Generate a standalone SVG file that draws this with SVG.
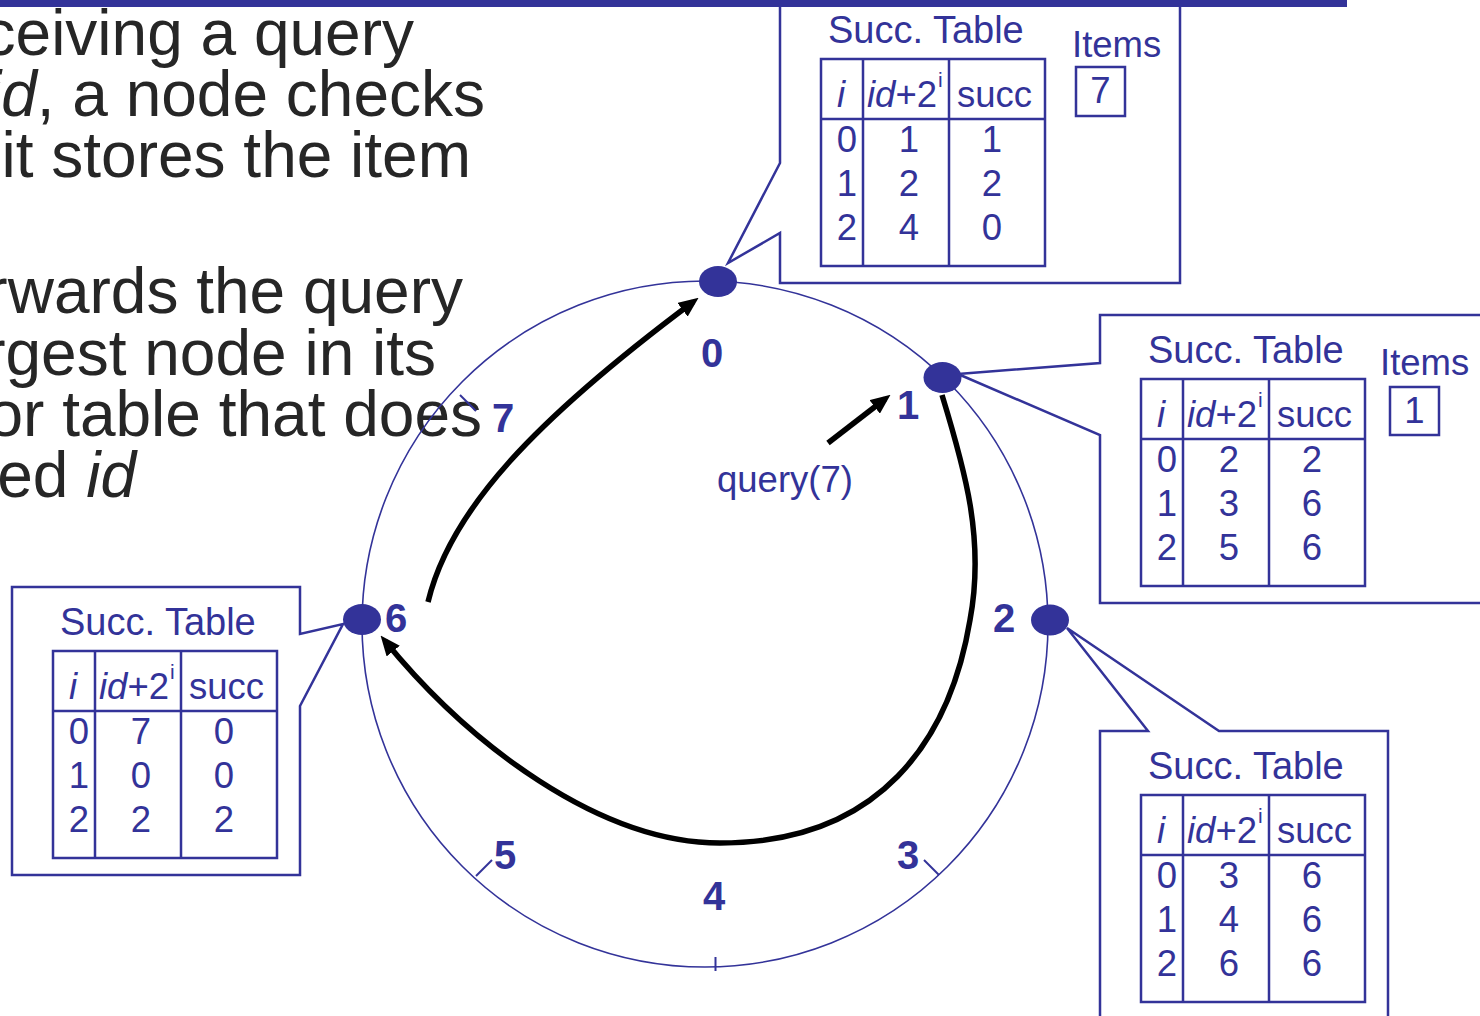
<svg xmlns="http://www.w3.org/2000/svg" width="1480" height="1016" viewBox="0 0 1480 1016">
  <defs>
    <marker id="arrowhead" markerUnits="userSpaceOnUse" markerWidth="20" markerHeight="17" viewBox="0 0 20 17" refX="13" refY="8.5" orient="auto">
      <path d="M0,0 L20,8.5 L0,17 Z" fill="#000"/>
    </marker>
  </defs>
  <style>
    .body{font-family:"Liberation Sans",Arial,sans-serif;font-size:64px;fill:#262626}
    .lbl{font-family:"Liberation Sans",Arial,sans-serif;font-size:40px;font-weight:bold;fill:#333399;text-anchor:middle}
    .t{font-family:"Liberation Sans",Arial,sans-serif;font-size:36.5px;fill:#333399}
    .ttl{font-size:38px}
    .c{text-anchor:middle}
    .it{font-style:italic}
    .sup{font-size:21px}
    .frame{fill:none;stroke:#333399;stroke-width:2.5}
    .ring{fill:none;stroke:#333399;stroke-width:1.6}
    .tick{stroke:#333399;stroke-width:2}
    .dot{fill:#333399}
    .hop{fill:none;stroke:#000;stroke-width:5.5;marker-end:url(#arrowhead)}
  </style>

  <rect width="1480" height="1016" fill="#fff"/>

  <!-- bullet text, running off the left edge -->
  <g id="bullets">
    <text class="body" text-anchor="end" x="414" y="55">ceiving a query</text>
    <text class="body" text-anchor="end" x="485" y="116"><tspan class="it">id</tspan>, a node checks</text>
    <text class="body" text-anchor="end" x="471" y="177">it stores the item</text>
    <text class="body" text-anchor="end" x="463" y="313">rwards the query</text>
    <text class="body" text-anchor="end" x="436" y="375">rgest node in its</text>
    <text class="body" text-anchor="end" x="482" y="436">or table that does</text>
    <text class="body" text-anchor="end" x="136" y="497">ed <tspan class="it">id</tspan></text>
  </g>

  <!-- identifier ring with empty positions 3, 4, 5, 7 -->
  <g id="ring">
    <circle class="ring" cx="705" cy="624" r="343"/>
    <line class="tick" x1="460" y1="395" x2="476" y2="411"/>
    <line class="tick" x1="476" y1="876" x2="492" y2="860"/>
    <line class="tick" x1="924" y1="860" x2="939" y2="875"/>
    <line class="tick" x1="715.5" y1="957" x2="715.5" y2="971"/>
    <text class="lbl" x="503" y="432">7</text>
    <text class="lbl" x="505" y="869">5</text>
    <text class="lbl" x="908" y="869">3</text>
    <text class="lbl" x="714" y="910">4</text>
  </g>

  <!-- node 0 -->
  <g id="node-0">
    <path class="frame" d="M780,-5 L780,163 L728,263 L780,233 L780,283 L1180,283 L1180,-5 Z"/>
    <g transform="translate(821,59)">
      <text class="t ttl" x="7" y="-16">Succ. Table</text>
      <rect class="frame" x="0" y="0" width="224" height="207"/>
      <path class="frame" d="M42,0 V207 M128,0 V207 M0,60 H224"/>
      <text class="t it" x="16" y="48">i</text>
      <text class="t" x="46" y="48"><tspan class="it">id</tspan>+2</text>
      <text class="t sup" x="117" y="28">i</text>
      <text class="t" x="136" y="48">succ</text>
      <text class="t c" x="26" y="93">0</text><text class="t c" x="88" y="93">1</text><text class="t c" x="171" y="93">1</text>
      <text class="t c" x="26" y="137">1</text><text class="t c" x="88" y="137">2</text><text class="t c" x="171" y="137">2</text>
      <text class="t c" x="26" y="181">2</text><text class="t c" x="88" y="181">4</text><text class="t c" x="171" y="181">0</text>
    </g>
    <text class="t" x="1072" y="57">Items</text>
    <rect class="frame" x="1076" y="67" width="49" height="49"/>
    <text class="t c" x="1100.5" y="103">7</text>
    <ellipse class="dot" cx="718" cy="281.5" rx="19" ry="15.5"/>
    <text class="lbl" x="712" y="367">0</text>
  </g>

  <!-- node 1 -->
  <g id="node-1">
    <path class="frame" d="M1100,315 L1100,363 L958,374 L1100,435 L1100,603 L1500,603 L1500,315 Z"/>
    <g transform="translate(1141,379)">
      <text class="t ttl" x="7" y="-16">Succ. Table</text>
      <rect class="frame" x="0" y="0" width="224" height="207"/>
      <path class="frame" d="M42,0 V207 M128,0 V207 M0,60 H224"/>
      <text class="t it" x="16" y="48">i</text>
      <text class="t" x="46" y="48"><tspan class="it">id</tspan>+2</text>
      <text class="t sup" x="117" y="28">i</text>
      <text class="t" x="136" y="48">succ</text>
      <text class="t c" x="26" y="93">0</text><text class="t c" x="88" y="93">2</text><text class="t c" x="171" y="93">2</text>
      <text class="t c" x="26" y="137">1</text><text class="t c" x="88" y="137">3</text><text class="t c" x="171" y="137">6</text>
      <text class="t c" x="26" y="181">2</text><text class="t c" x="88" y="181">5</text><text class="t c" x="171" y="181">6</text>
    </g>
    <text class="t" x="1380" y="375">Items</text>
    <rect class="frame" x="1390" y="387" width="49" height="48"/>
    <text class="t c" x="1414.5" y="423">1</text>
    <ellipse class="dot" cx="942.5" cy="377.5" rx="19" ry="15.5"/>
    <text class="lbl" x="908" y="419">1</text>
  </g>

  <!-- node 2 -->
  <g id="node-2">
    <path class="frame" d="M1100,1030 L1100,731 L1148,731 L1067,628 L1219,731 L1388,731 L1388,1030"/>
    <g transform="translate(1141,795)">
      <text class="t ttl" x="7" y="-16">Succ. Table</text>
      <rect class="frame" x="0" y="0" width="224" height="207"/>
      <path class="frame" d="M42,0 V207 M128,0 V207 M0,60 H224"/>
      <text class="t it" x="16" y="48">i</text>
      <text class="t" x="46" y="48"><tspan class="it">id</tspan>+2</text>
      <text class="t sup" x="117" y="28">i</text>
      <text class="t" x="136" y="48">succ</text>
      <text class="t c" x="26" y="93">0</text><text class="t c" x="88" y="93">3</text><text class="t c" x="171" y="93">6</text>
      <text class="t c" x="26" y="137">1</text><text class="t c" x="88" y="137">4</text><text class="t c" x="171" y="137">6</text>
      <text class="t c" x="26" y="181">2</text><text class="t c" x="88" y="181">6</text><text class="t c" x="171" y="181">6</text>
    </g>
    <ellipse class="dot" cx="1050" cy="620" rx="19" ry="15.5"/>
    <text class="lbl" x="1004" y="632">2</text>
  </g>

  <!-- node 6 -->
  <g id="node-6">
    <path class="frame" d="M12,587 L300,587 L300,634 L343,624 L300,706 L300,875 L12,875 Z"/>
    <g transform="translate(53,651)">
      <text class="t ttl" x="7" y="-16">Succ. Table</text>
      <rect class="frame" x="0" y="0" width="224" height="207"/>
      <path class="frame" d="M42,0 V207 M128,0 V207 M0,60 H224"/>
      <text class="t it" x="16" y="48">i</text>
      <text class="t" x="46" y="48"><tspan class="it">id</tspan>+2</text>
      <text class="t sup" x="117" y="28">i</text>
      <text class="t" x="136" y="48">succ</text>
      <text class="t c" x="26" y="93">0</text><text class="t c" x="88" y="93">7</text><text class="t c" x="171" y="93">0</text>
      <text class="t c" x="26" y="137">1</text><text class="t c" x="88" y="137">0</text><text class="t c" x="171" y="137">0</text>
      <text class="t c" x="26" y="181">2</text><text class="t c" x="88" y="181">2</text><text class="t c" x="171" y="181">2</text>
    </g>
    <ellipse class="dot" cx="362" cy="619.5" rx="19" ry="15.5"/>
    <text class="lbl" x="396" y="632">6</text>
  </g>

  <!-- query path: 1 -> 6 -> 0 -->
  <g id="connectors">
    <path class="hop" d="M828,443 L885,399"/>
    <path class="hop" d="M942,395 C965,470 985,540 970,620 C950,740 880,843 720,843 C600,843 470,745 385,641"/>
    <path class="hop" d="M428,602 C450,510 535,420 693,302"/>
  </g>
  <text class="t" x="717" y="492">query(7)</text>

  <!-- slide title rule -->
  <rect x="0" y="0" width="1347" height="7" fill="#333399"/>
</svg>
